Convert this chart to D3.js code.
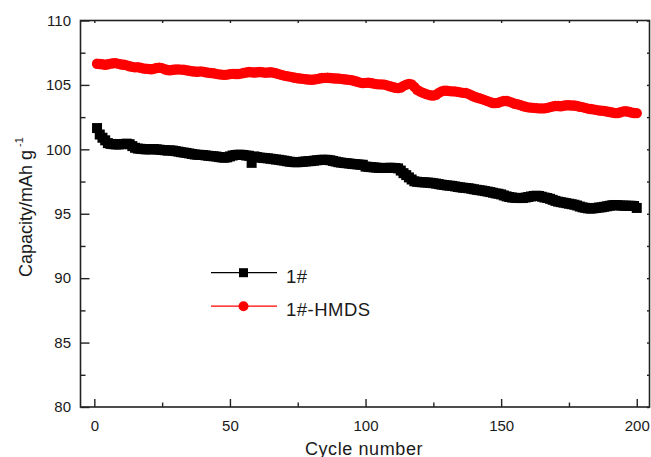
<!DOCTYPE html>
<html>
<head>
<meta charset="utf-8">
<script src="https://cdn.jsdelivr.net/npm/d3@7"></script>
<style>
  body { margin: 0; background: #fff; }
  svg { display: block; font-family: "Liberation Sans", Arial, sans-serif; }
</style>
</head>
<body>
<svg width="651" height="457"></svg>
<script>

const seriesNames = ["1#", "1#-HMDS"]
const seriesColors = ["#000", "#ff0000"]

const xTicks = [0, 50, 100, 150, 200]
const xMinor = [25, 75, 125, 175]
const yTicks = [80, 85, 90, 95, 100, 105, 110]
const yMinor = [82.5, 87.5, 92.5, 97.5, 102.5, 107.5]

// capacity per cycle, cycles 1..200
const plain = [
  101.65, 101.15, 100.90, 100.70, 100.48, 100.42, 100.40, 100.38, 100.38, 100.40,
  100.42, 100.44, 100.40, 100.25, 100.12, 100.06, 100.04, 100.02, 100.00, 100.00,
  100.00, 100.02, 100.00, 99.97, 99.95, 99.93, 99.90, 99.92, 99.90, 99.86,
  99.82, 99.78, 99.75, 99.72, 99.68, 99.64, 99.60, 99.58, 99.57, 99.56,
  99.53, 99.50, 99.48, 99.46, 99.44, 99.40, 99.37, 99.35, 99.38, 99.45,
  99.52, 99.56, 99.58, 99.58, 99.56, 99.52, 99.50, 98.95, 99.45, 99.40,
  99.36, 99.34, 99.32, 99.30, 99.27, 99.24, 99.21, 99.19, 99.15, 99.12,
  99.08, 99.04, 99.02, 99.00, 99.00, 99.02, 99.04, 99.06, 99.08, 99.09,
  99.12, 99.15, 99.17, 99.19, 99.19, 99.18, 99.15, 99.10, 99.05, 99.00,
  98.97, 98.94, 98.92, 98.90, 98.87, 98.85, 98.83, 98.81, 98.80, 98.66,
  98.64, 98.62, 98.60, 98.58, 98.56, 98.55, 98.55, 98.56, 98.57, 98.56,
  98.55, 98.52, 98.35, 98.15, 98.00, 97.82, 97.66, 97.52, 97.48, 97.46,
  97.44, 97.43, 97.42, 97.40, 97.37, 97.34, 97.30, 97.26, 97.23, 97.20,
  97.18, 97.16, 97.12, 97.08, 97.05, 97.02, 97.00, 96.98, 96.94, 96.90,
  96.86, 96.83, 96.80, 96.76, 96.72, 96.68, 96.63, 96.58, 96.55, 96.50,
  96.42, 96.35, 96.30, 96.26, 96.24, 96.22, 96.22, 96.22, 96.26, 96.30,
  96.34, 96.38, 96.40, 96.38, 96.32, 96.26, 96.22, 96.16, 96.08, 96.00,
  95.94, 95.90, 95.86, 95.82, 95.78, 95.74, 95.70, 95.64, 95.56, 95.50,
  95.46, 95.42, 95.40, 95.42, 95.45, 95.48, 95.50, 95.54, 95.58, 95.62,
  95.66, 95.68, 95.66, 95.64, 95.63, 95.62, 95.62, 95.62, 95.60, 95.45
]

const hmds = [
  106.64, 106.62, 106.60, 106.56, 106.60, 106.65, 106.68, 106.69, 106.63, 106.58,
  106.56, 106.52, 106.45, 106.40, 106.36, 106.38, 106.33, 106.28, 106.26, 106.24,
  106.22, 106.26, 106.31, 106.33, 106.30, 106.22, 106.16, 106.14, 106.18, 106.20,
  106.21, 106.19, 106.18, 106.14, 106.10, 106.06, 106.04, 106.02, 106.05, 106.03,
  105.98, 105.95, 105.92, 105.90, 105.86, 105.82, 105.80, 105.78, 105.80, 105.84,
  105.86, 105.85, 105.85, 105.88, 105.92, 105.96, 106.00, 105.98, 105.96, 105.98,
  106.00, 105.98, 105.95, 105.96, 105.98, 105.95, 105.90, 105.84, 105.78, 105.72,
  105.68, 105.64, 105.60, 105.56, 105.52, 105.50, 105.47, 105.44, 105.42, 105.40,
  105.42, 105.45, 105.50, 105.54, 105.55, 105.56, 105.54, 105.52, 105.50, 105.50,
  105.47, 105.44, 105.42, 105.39, 105.36, 105.30, 105.24, 105.18, 105.14, 105.16,
  105.18, 105.15, 105.10, 105.06, 105.04, 105.04, 105.02, 104.96, 104.90, 104.84,
  104.78, 104.75, 104.80, 104.92, 105.02, 105.08, 105.04, 104.85, 104.62, 104.50,
  104.40, 104.32, 104.25, 104.20, 104.17, 104.24, 104.38, 104.50, 104.56, 104.55,
  104.52, 104.50, 104.50, 104.46, 104.42, 104.38, 104.37, 104.30, 104.20, 104.10,
  104.02, 103.96, 103.90, 103.82, 103.74, 103.66, 103.60, 103.59, 103.62, 103.70,
  103.75, 103.75, 103.70, 103.62, 103.54, 103.50, 103.44, 103.36, 103.30, 103.26,
  103.24, 103.22, 103.20, 103.18, 103.18, 103.18, 103.22, 103.28, 103.33, 103.36,
  103.36, 103.34, 103.38, 103.42, 103.42, 103.40, 103.40, 103.36, 103.30, 103.28,
  103.22, 103.16, 103.13, 103.10, 103.06, 103.02, 103.00, 102.98, 102.94, 102.90,
  102.86, 102.81, 102.82, 102.88, 102.95, 102.96, 102.92, 102.86, 102.82, 102.81
]

const svg = d3.select("svg")

const x = d3.scaleLinear().domain([-5.1, 204.7]).range([80.5, 649.5])
const y = d3.scaleLinear().domain([80, 110]).range([407, 20.5])

const axisColor = "#222"

const line = d3.line()
   .x((d, i) => x(i + 1))
   .y(d => y(d))

// series: connecting line, then markers on top
const plot = svg.append("g")

plot.append("path")
   .datum(plain)
   .attr("fill", "none")
   .attr("stroke", seriesColors[0])
   .attr("d", line)

plot.append("g")
   .selectAll("rect")
   .data(plain)
   .join("rect")
   .attr("x", (d, i) => x(i + 1) - 5)
   .attr("y", d => y(d) - 5)
   .attr("width", 10)
   .attr("height", 10)
   .attr("fill", seriesColors[0])

plot.append("path")
   .datum(hmds)
   .attr("fill", "none")
   .attr("stroke", seriesColors[1])
   .attr("d", line)

plot.append("g")
   .selectAll("circle")
   .data(hmds)
   .join("circle")
   .attr("cx", (d, i) => x(i + 1))
   .attr("cy", d => y(d))
   .attr("r", 5.2)
   .attr("fill", seriesColors[1])

// frame
svg.append("rect")
   .attr("x", x.range()[0])
   .attr("y", y.range()[1])
   .attr("width", x.range()[1] - x.range()[0])
   .attr("height", y.range()[0] - y.range()[1])
   .attr("fill", "none")
   .attr("stroke", axisColor)
   .attr("stroke-width", 1.6)

// axes with inward ticks
const axBottom = svg.append("g").attr("transform", `translate(0,${y.range()[0]})`)
axBottom.call(d3.axisBottom(x).tickValues(xTicks).tickSize(-8).tickPadding(13).tickSizeOuter(0))
axBottom.append("g").call(d3.axisBottom(x).tickValues(xMinor).tickSize(-4.5).tickFormat("").tickSizeOuter(0))

const axLeft = svg.append("g").attr("transform", `translate(${x.range()[0]},0)`)
axLeft.call(d3.axisLeft(y).tickValues(yTicks).tickSize(-9).tickPadding(9.5).tickSizeOuter(0))
axLeft.append("g").call(d3.axisLeft(y).tickValues(yMinor).tickSize(-5).tickFormat("").tickSizeOuter(0))

const axTop = svg.append("g").attr("transform", `translate(0,${y.range()[1]})`)
axTop.call(d3.axisTop(x).tickValues(xTicks.concat(xMinor)).tickSize(-2.5).tickFormat("").tickSizeOuter(0))

const axRight = svg.append("g").attr("transform", `translate(${x.range()[1]},0)`)
axRight.call(d3.axisRight(y).tickValues(yTicks.concat(yMinor)).tickSize(-2.5).tickFormat("").tickSizeOuter(0))

svg.selectAll(".domain").remove()
svg.selectAll(".tick line").attr("stroke", axisColor).attr("stroke-width", 1.4)
svg.selectAll(".tick text")
   .attr("font-size", 15)
   .attr("fill", "#1a1a1a")
   .attr("font-family", "Liberation Sans, Arial, sans-serif")

// axis titles
svg.append("text")
   .attr("x", 364)
   .attr("y", 455)
   .attr("text-anchor", "middle")
   .attr("font-size", 18)
   .attr("letter-spacing", 0.6)
   .attr("fill", "#1a1a1a")
   .text("Cycle number")

const ytitle = svg.append("text")
   .attr("transform", "translate(32,277) rotate(-90)")
   .attr("font-size", 18)
   .attr("fill", "#1a1a1a")
ytitle.append("tspan").text("Capacity/mAh g")
ytitle.append("tspan")
   .attr("font-size", 11)
   .attr("dx", 3)
   .attr("dy", -9)
   .text("-1")

// legend
const legend = svg.append("g")
   .selectAll("g")
   .data(seriesNames)
   .join("g")
   .attr("transform", (d, i) => `translate(211,${272.7 + i * 33.5})`)

legend.append("line")
   .attr("x1", 0).attr("x2", 66)
   .attr("stroke", (d, i) => seriesColors[i])
   .attr("stroke-width", 1.2)

legend.filter((d, i) => i == 0).append("rect")
   .attr("x", 28).attr("y", -4.5)
   .attr("width", 9).attr("height", 9)
   .attr("fill", seriesColors[0])

legend.filter((d, i) => i == 1).append("circle")
   .attr("cx", 32.5)
   .attr("r", 5)
   .attr("fill", seriesColors[1])

legend.append("text")
   .attr("x", 75)
   .attr("y", 10)
   .attr("font-size", 18.5)
   .attr("letter-spacing", 0.5)
   .attr("fill", "#1a1a1a")
   .text(d => d)

</script>
</body>
</html>
